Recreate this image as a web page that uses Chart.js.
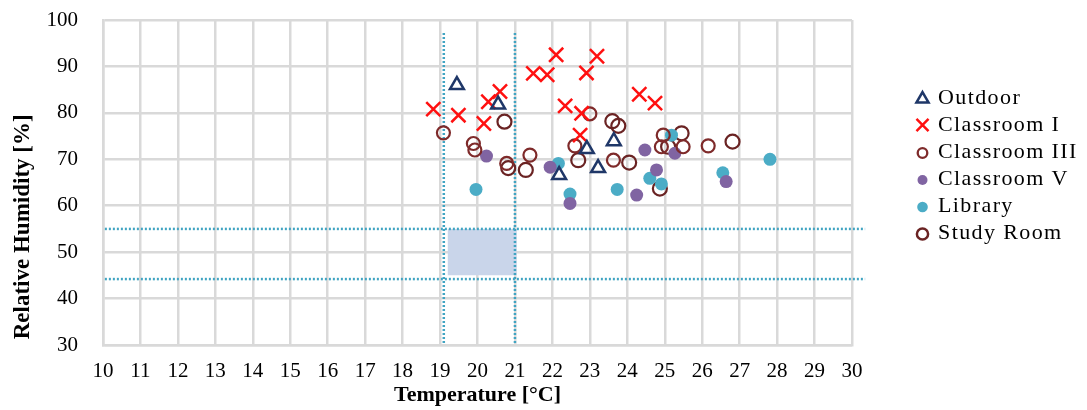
<!DOCTYPE html>
<html><head><meta charset="utf-8">
<script src="https://cdn.jsdelivr.net/npm/chart.js@4/dist/chart.umd.min.js"></script>
<style>html,body{margin:0;padding:0;background:#fff;}#wrap{width:1087px;height:410px;position:relative;}</style>
</head><body><div id="wrap"><canvas id="c"></canvas></div>
<script>
// ---- data ----
const xTickLabels = [10,11,12,13,14,15,16,17,18,19,20,21,22,23,24,25,26,27,28,29,30];
const yTickLabels = [30,40,50,60,70,80,90,100];
const seriesNames = ['Outdoor','Classroom I','Classroom III','Classroom V','Library','Study Room'];

const outdoorT  = [19.45, 20.55, 22.18, 22.92, 23.22, 23.64];
const outdoorRH = [86.0, 81.8, 66.6, 72.2, 68.1, 73.9];

const classIT  = [18.82, 19.49, 20.17, 20.29, 20.60, 21.49, 21.86, 22.10, 22.34, 22.74, 22.78, 22.91, 23.19, 24.32, 24.74];
const classIRH = [80.8, 79.5, 77.7, 82.4, 84.6, 88.5, 88.2, 92.5, 81.5, 75.2, 79.9, 88.6, 92.2, 84.0, 82.1];

const classIIIT  = [19.09, 19.89, 19.93, 20.78, 21.40, 23.00, 22.60, 23.63, 24.96, 24.91, 25.49, 26.16];
const classIIIRH = [75.7, 73.4, 72.0, 69.1, 70.9, 79.8, 72.9, 69.8, 75.2, 72.7, 72.7, 72.9];

const classVT  = [20.24, 21.94, 22.47, 24.25, 24.47, 24.78, 25.27, 26.64];
const classVRH = [70.7, 68.3, 60.5, 62.3, 72.0, 67.7, 71.3, 65.2];

const libraryT  = [19.96, 22.16, 22.47, 23.73, 24.60, 24.91, 25.18, 26.55, 27.81];
const libraryRH = [63.5, 69.1, 62.5, 63.5, 65.9, 64.7, 75.2, 67.1, 70.0];

const studyT  = [20.72, 20.82, 21.29, 23.60, 23.76, 22.69, 24.05, 25.45, 25.09, 24.87, 26.81];
const studyRH = [78.1, 68.1, 67.7, 78.2, 77.2, 69.8, 69.3, 75.6, 72.7, 63.7, 73.8];

// comfort zone and guide lines
const zoneT  = [19.2, 21.05];
const zoneRH = [45, 55];
const guideT  = [19.1, 21.0];
const guideRH = [44.2, 55.0];
const guideVerticalRH = [97.2, 30];
const guideHorizontalT = [10.05, 30.35];

// ---- helpers ----
const pts = (xs, ys) => xs.map((x, i) => ({x, y: ys[i]}));
const SERIF = "'Liberation Serif','Times New Roman',serif";
const dotted = '#40A4C2';

const datasets = [
  {label: seriesNames[0], data: pts(outdoorT, outdoorRH), pointStyle: 'triangle', pointRadius: 8,
   borderColor: '#1F3768', backgroundColor: 'rgba(0,0,0,0)', pointBorderWidth: 2.5, borderWidth: 2.5,
   lg: {r: 7, bw: 2.5}},
  {label: seriesNames[1], data: pts(classIT, classIRH), pointStyle: 'crossRot', pointRadius: 10,
   borderColor: '#FF1010', backgroundColor: '#FF1010', pointBorderWidth: 2.5, borderWidth: 2.5,
   lg: {r: 8.5, bw: 2.5}},
  {label: seriesNames[2], data: pts(classIIIT, classIIIRH), pointStyle: 'circle', pointRadius: 6.5,
   borderColor: '#7E2A2A', backgroundColor: 'rgba(0,0,0,0)', pointBorderWidth: 2.2, borderWidth: 2.2,
   lg: {r: 4.8, bw: 2.3}},
  {label: seriesNames[3], data: pts(classVT, classVRH), pointStyle: 'circle', pointRadius: 6.5,
   borderColor: '#8064A2', backgroundColor: '#8064A2', pointBorderWidth: 0, borderWidth: 0,
   lg: {r: 5, bw: 0}},
  {label: seriesNames[4], data: pts(libraryT, libraryRH), pointStyle: 'circle', pointRadius: 6.5,
   borderColor: '#4BACC6', backgroundColor: '#4BACC6', pointBorderWidth: 0, borderWidth: 0,
   lg: {r: 5.3, bw: 0}},
  {label: seriesNames[5], data: pts(studyT, studyRH), pointStyle: 'circle', pointRadius: 7,
   borderColor: '#6A2323', backgroundColor: 'rgba(0,0,0,0)', pointBorderWidth: 2.2, borderWidth: 2.2,
   lg: {r: 5.6, bw: 2.5}},
  // guide lines
  {type: 'line', label: '', helper: true, data: [{x: guideT[0], y: guideVerticalRH[0]}, {x: guideT[0], y: guideVerticalRH[1]}],
   borderColor: dotted, borderWidth: 2.5, borderDash: [2, 2], pointRadius: 0, fill: false, order: 5, clip: false},
  {type: 'line', label: '', helper: true, data: [{x: guideT[1], y: guideVerticalRH[0]}, {x: guideT[1], y: guideVerticalRH[1]}],
   borderColor: dotted, borderWidth: 2.5, borderDash: [2, 2], pointRadius: 0, fill: false, order: 5, clip: false},
  {type: 'line', label: '', helper: true, data: [{x: guideHorizontalT[0], y: guideRH[1]}, {x: guideHorizontalT[1], y: guideRH[1]}],
   borderColor: dotted, borderWidth: 2.5, borderDash: [2, 2], pointRadius: 0, fill: false, order: 5, clip: false},
  {type: 'line', label: '', helper: true, data: [{x: guideHorizontalT[0], y: guideRH[0]}, {x: guideHorizontalT[1], y: guideRH[0]}],
   borderColor: dotted, borderWidth: 2.5, borderDash: [2, 2], pointRadius: 0, fill: false, order: 5, clip: false},
  // comfort zone rectangle
  {type: 'line', label: '', helper: true, data: [{x: zoneT[0], y: zoneRH[1]}, {x: zoneT[1], y: zoneRH[1]}],
   borderWidth: 0, borderColor: 'rgba(0,0,0,0)', backgroundColor: '#C9D5EA', pointRadius: 0,
   fill: {value: zoneRH[0]}, order: 10}
];

// custom legend drawn on the chart canvas
const sideLegend = {
  id: 'sideLegend',
  afterDraw(chart) {
    const ctx = chart.ctx;
    const x0 = 922.5, tx = 938, y0 = 98, dy = 27;
    ctx.save();
    ctx.font = "22px " + SERIF;
    try { ctx.letterSpacing = '1.4px'; } catch (e) {}
    ctx.textBaseline = 'middle';
    ctx.textAlign = 'left';
    let row = 0;
    chart.data.datasets.forEach(ds => {
      if (ds.helper) return;
      const y = y0 + row * dy;
      const r = ds.lg.r;
      ctx.lineWidth = ds.lg.bw;
      ctx.strokeStyle = ds.borderColor;
      ctx.fillStyle = ds.backgroundColor;
      ctx.beginPath();
      if (ds.pointStyle === 'triangle') {
        let a = 0;
        ctx.moveTo(x0 + Math.sin(a) * r, y + 1 - Math.cos(a) * r);
        for (let k = 0; k < 2; k++) { a += Math.PI * 2 / 3; ctx.lineTo(x0 + Math.sin(a) * r, y + 1 - Math.cos(a) * r); }
        ctx.closePath();
        ctx.stroke();
      } else if (ds.pointStyle === 'crossRot') {
        const o = r * Math.SQRT1_2;
        ctx.moveTo(x0 - o, y - o); ctx.lineTo(x0 + o, y + o);
        ctx.moveTo(x0 - o, y + o); ctx.lineTo(x0 + o, y - o);
        ctx.stroke();
      } else {
        ctx.arc(x0, y + 1, r, 0, Math.PI * 2);
        ctx.fill();
        if (ds.lg.bw > 0) ctx.stroke();
      }
      ctx.fillStyle = '#000';
      ctx.fillText(ds.label, tx, y);
      row++;
    });
    ctx.restore();
  }
};

new Chart(document.getElementById('c'), {
  type: 'scatter',
  data: {datasets},
  options: {
    responsive: true, maintainAspectRatio: false, animation: false, events: [],
    layout: {padding: {left: 0, top: 20, right: 235, bottom: 0}},
    plugins: {legend: {display: false}, tooltip: {enabled: false}},
    scales: {
      x: {
        type: 'linear', min: xTickLabels[0], max: xTickLabels[xTickLabels.length - 1],
        afterFit: s => { s.height = 65; s.paddingLeft = 0; s.paddingRight = 0; },
        afterBuildTicks: s => { s.ticks = xTickLabels.map(v => ({value: v})); },
        ticks: {font: {family: SERIF, size: 21}, color: '#000', padding: 14, maxRotation: 0, autoSkip: false},
        grid: {color: '#D9D9D9', lineWidth: 2.5, drawTicks: false},
        border: {color: '#D9D9D9', width: 2.5},
        title: {display: true, text: 'Temperature [°C]', color: '#000',
                font: {family: SERIF, size: 22, weight: 'bold'}, padding: {top: 0, bottom: 1}}
      },
      y: {
        type: 'linear', min: yTickLabels[0], max: yTickLabels[yTickLabels.length - 1],
        afterFit: s => { s.width = 103; s.paddingTop = 0; s.paddingBottom = 0; },
        afterBuildTicks: s => { s.ticks = yTickLabels.map(v => ({value: v})); },
        ticks: {font: {family: SERIF, size: 21}, color: '#000', padding: 25},
        grid: {color: '#D9D9D9', lineWidth: 2.5, drawTicks: false},
        border: {color: '#D9D9D9', width: 2.5},
        title: {display: true, text: ' Relative Humidity [%]', align: 'start', color: '#000',
                font: {family: SERIF, size: 23, weight: 'bold'}, padding: {top: 9, bottom: 0}}
      }
    }
  },
  plugins: [sideLegend]
});
</script>
</body></html>
